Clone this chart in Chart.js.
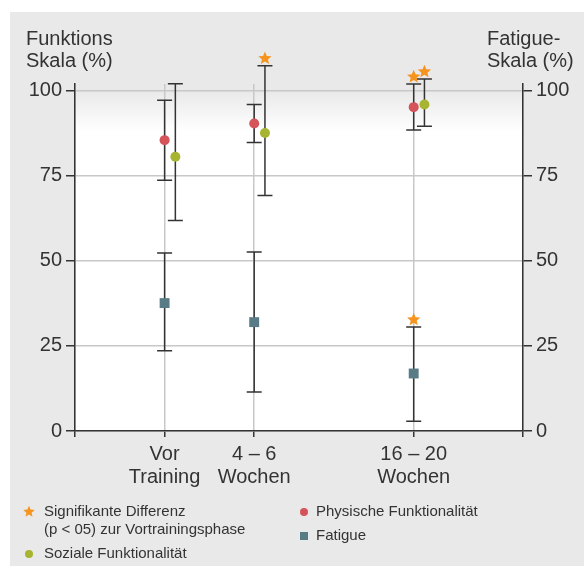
<!DOCTYPE html>
<html>
<head>
<meta charset="utf-8">
<script src="https://cdn.jsdelivr.net/npm/chart.js@4"></script>
<style>
  html, body { margin: 0; padding: 0; background: #fff; }
</style>
</head>
<body>
<canvas id="chart" width="584" height="567"></canvas>
<script>
// Zeitpunkte (x-Achse)
const zeitLabels = [['Vor', 'Training'], ['4 – 6', 'Wochen'], ['16 – 20', 'Wochen']]
const zeitX = [1, 2, 3.78]

// Physische Funktionalität (linke Skala)
const physisch = [85.5, 90.4, 95.2]
const physischMin = [73.7, 84.8, 88.5]
const physischMax = [97.2, 96.0, 102.0]
const physischSig = [false, false, true]

// Soziale Funktionalität (linke Skala)
const sozial = [80.6, 87.6, 96.0]
const sozialMin = [61.9, 69.2, 89.6]
const sozialMax = [102.1, 107.4, 103.5]
const sozialSig = [false, true, true]

// Fatigue (rechte Skala)
const fatigue = [37.6, 32.0, 16.9]
const fatigueMin = [23.6, 11.5, 2.9]
const fatigueMax = [52.3, 52.6, 30.6]
const fatigueSig = [false, false, true]

const yTicks = [0, 25, 50, 75, 100]

const FONT = "'Liberation Sans', Arial, sans-serif"
const TEXT = '#333333'
const GREY = '#e9e9e9'
const RED = '#d5545a'
const GREEN = '#a7b430'
const TEAL = '#587b85'
const ORANGE = '#f7941d'
const SOZIAL_SHIFT = 0.12

function drawStar(ctx, x, y, r) {
  ctx.beginPath()
  for (let i = 0; i < 10; i++) {
    const rad = i % 2 ? r * 0.45 : r
    const a = -Math.PI / 2 + (i * Math.PI) / 5
    ctx.lineTo(x + rad * Math.cos(a), y + 0.8 + rad * Math.sin(a))
  }
  ctx.closePath()
  ctx.fillStyle = ORANGE
  ctx.fill()
}

const pts = (xs, ys, shift = 0) => xs.map((x, i) => ({ x: x + shift, y: ys[i] }))

const hintergrund = {
  id: 'hintergrund',
  beforeDraw(chart) {
    const { ctx, chartArea: a, scales } = chart
    ctx.save()
    ctx.fillStyle = '#fff'
    ctx.fillRect(0, 0, chart.width, chart.height)
    ctx.fillStyle = GREY
    ctx.fillRect(10, 12, chart.width - 10, 554)
    const y100 = scales.y.getPixelForValue(100)
    const y88 = scales.y.getPixelForValue(88)
    ctx.fillStyle = '#fff'
    ctx.fillRect(a.left, y100, a.right - a.left, a.bottom - y100)
    const grad = ctx.createLinearGradient(0, y100, 0, y88)
    grad.addColorStop(0, GREY)
    grad.addColorStop(1, 'rgba(233,233,233,0)')
    ctx.fillStyle = grad
    ctx.fillRect(a.left, y100, a.right - a.left, y88 - y100)
    ctx.restore()
  },
}

// Fehlerbalken hinter den Punkten, Sterne (p < .05) über dem oberen Balkenende
const fehlerbalken = {
  id: 'fehlerbalken',
  beforeDatasetsDraw(chart) {
    const { ctx } = chart
    ctx.save()
    ctx.strokeStyle = TEXT
    ctx.lineWidth = 1.5
    chart.data.datasets.forEach((ds) => {
      const ys = chart.scales[ds.yAxisID]
      ds.data.forEach((p, i) => {
        const x = chart.scales.x.getPixelForValue(p.x)
        const lo = ys.getPixelForValue(ds.fehler.min[i])
        const hi = ys.getPixelForValue(ds.fehler.max[i])
        ctx.beginPath()
        ctx.moveTo(x, lo)
        ctx.lineTo(x, hi)
        ctx.moveTo(x - 7.5, lo)
        ctx.lineTo(x + 7.5, lo)
        ctx.moveTo(x - 7.5, hi)
        ctx.lineTo(x + 7.5, hi)
        ctx.stroke()
      })
    })
    ctx.restore()
  },
  afterDatasetsDraw(chart) {
    const { ctx } = chart
    ctx.save()
    chart.data.datasets.forEach((ds) => {
      const ys = chart.scales[ds.yAxisID]
      ds.data.forEach((p, i) => {
        if (!ds.signifikant[i]) return
        const x = chart.scales.x.getPixelForValue(p.x)
        const hi = ys.getPixelForValue(ds.fehler.max[i])
        drawStar(ctx, x, hi - 8, 7)
      })
    })
    ctx.restore()
  },
}

const beschriftung = {
  id: 'beschriftung',
  afterDraw(chart) {
    const { ctx } = chart
    ctx.save()
    ctx.fillStyle = TEXT
    ctx.font = '20px ' + FONT
    ctx.textBaseline = 'alphabetic'
    ctx.textAlign = 'left'
    ctx.fillText('Funktions', 26, 45)
    ctx.fillText('Skala (%)', 26, 67)
    ctx.fillText('Fatigue-', 487, 45)
    ctx.fillText('Skala (%)', 487, 67)

    // Legende
    ctx.font = '15px ' + FONT
    ctx.textBaseline = 'middle'
    ctx.fillText('Signifikante Differenz', 44, 512)
    ctx.fillText('(p < 05) zur Vortrainingsphase', 44, 530)
    ctx.fillText('Soziale Funktionalität', 44, 554)
    ctx.fillText('Physische Funktionalität', 316, 512)
    ctx.fillText('Fatigue', 316, 536)
    drawStar(ctx, 29, 511, 6)
    ctx.fillStyle = GREEN
    ctx.beginPath()
    ctx.arc(29, 554, 4, 0, Math.PI * 2)
    ctx.fill()
    ctx.fillStyle = RED
    ctx.beginPath()
    ctx.arc(304, 512, 4, 0, Math.PI * 2)
    ctx.fill()
    ctx.fillStyle = TEAL
    ctx.fillRect(300, 532, 8, 8)
    ctx.restore()
  },
}

const yAxis = (position, onArea, width) => ({
  type: 'linear',
  position,
  min: 0,
  max: 102,
  afterBuildTicks: (s) => { s.ticks = yTicks.map((v) => ({ value: v })) },
  afterFit: (s) => { s.width = width },
  grid: {
    drawOnChartArea: onArea,
    color: '#c8c8c8',
    lineWidth: 1.5,
    tickColor: TEXT,
    tickWidth: 1.5,
    tickLength: 9,
  },
  border: { color: TEXT, width: 1.5 },
  ticks: { color: TEXT, font: { family: FONT, size: 20 }, padding: 4 },
})

new Chart(document.getElementById('chart'), {
  type: 'scatter',
  data: {
    datasets: [
      {
        label: 'Physische Funktionalität',
        data: pts(zeitX, physisch),
        fehler: { min: physischMin, max: physischMax },
        signifikant: physischSig,
        yAxisID: 'y',
        pointStyle: 'circle',
        pointRadius: 5,
        backgroundColor: RED,
        borderWidth: 0,
        clip: false,
      },
      {
        label: 'Soziale Funktionalität',
        data: pts(zeitX, sozial, SOZIAL_SHIFT),
        fehler: { min: sozialMin, max: sozialMax },
        signifikant: sozialSig,
        yAxisID: 'y',
        pointStyle: 'circle',
        pointRadius: 5,
        backgroundColor: GREEN,
        borderWidth: 0,
        clip: false,
      },
      {
        label: 'Fatigue',
        data: pts(zeitX, fatigue),
        fehler: { min: fatigueMin, max: fatigueMax },
        signifikant: fatigueSig,
        yAxisID: 'y2',
        pointStyle: 'rect',
        pointRadius: 7,
        backgroundColor: TEAL,
        borderWidth: 0,
        clip: false,
      },
    ],
  },
  options: {
    responsive: false,
    animation: false,
    devicePixelRatio: 1,
    layout: { padding: { top: 84, left: 0, right: 0, bottom: 0 } },
    plugins: { legend: { display: false }, tooltip: { enabled: false } },
    scales: {
      x: {
        type: 'linear',
        min: 0,
        max: 5,
        afterBuildTicks: (s) => { s.ticks = [0, ...zeitX, 5].map((v) => ({ value: v })) },
        afterFit: (s) => { s.height = 136 },
        grid: {
          color: '#c8c8c8',
          lineWidth: 1.5,
          tickColor: TEXT,
          tickWidth: 1.5,
          tickLength: 6,
        },
        border: { color: TEXT, width: 1.5 },
        ticks: {
          autoSkip: false,
          maxRotation: 0,
          color: TEXT,
          padding: 6,
          font: { family: FONT, size: 20, lineHeight: 1.15 },
          callback: (v, i) => (i >= 1 && i <= zeitLabels.length ? zeitLabels[i - 1] : ''),
        },
      },
      y: yAxis('left', true, 75),
      y2: yAxis('right', false, 61),
    },
  },
  plugins: [hintergrund, fehlerbalken, beschriftung],
})
</script>
</body>
</html>
